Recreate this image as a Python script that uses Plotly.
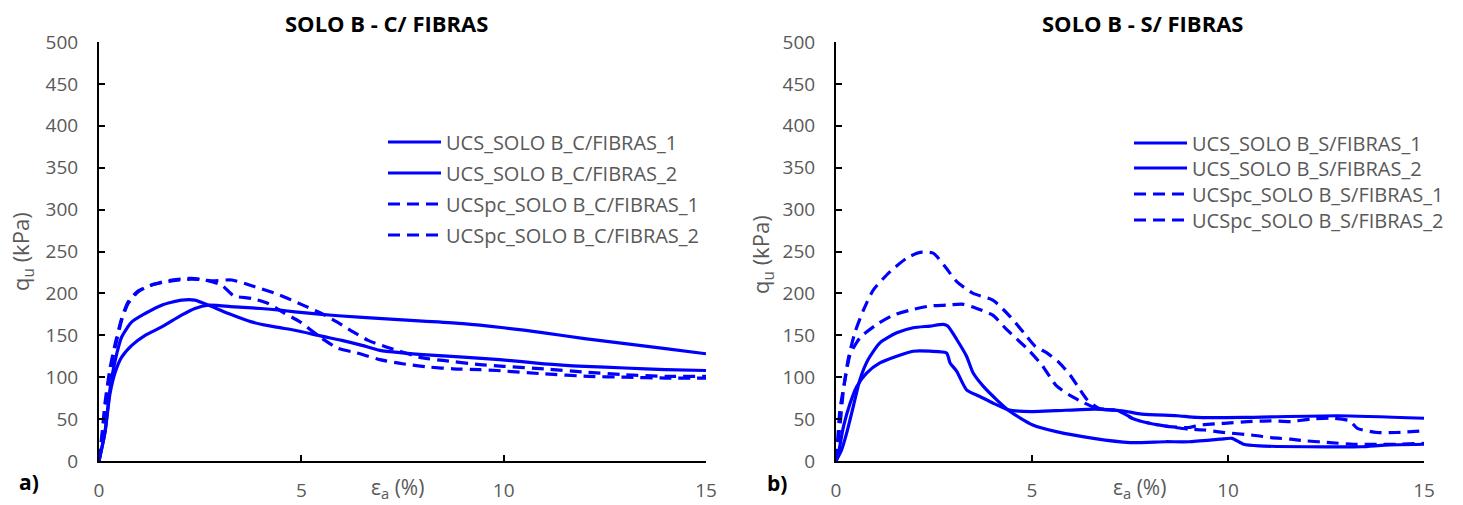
import plotly.graph_objects as go

# ---------------- SOLO B - C/ FIBRAS ----------------
c_ucs1_x = [0, 0.15, 0.27, 0.4, 0.56, 0.81, 1.14, 1.55, 2.04, 2.37, 2.7, 3.36, 4.0, 4.47, 4.84,
            5.5, 6.0, 7.0, 8.0, 9.0, 10.0, 11, 12, 13, 14, 15]
c_ucs1_q = [0, 35, 80, 106, 124, 138, 150, 160, 174, 182, 186, 184, 182, 180, 178,
            175, 173, 170, 167, 164, 159, 153, 146, 140, 134, 128]

c_ucs2_x = [0, 0.15, 0.27, 0.4, 0.56, 0.81, 1.14, 1.55, 2.04, 2.37, 2.7, 3.2, 3.77, 4.35, 4.84,
            5.5, 6.0, 6.5, 6.94, 7.5, 8.0, 9.0, 9.9, 11, 12, 13, 14, 15]
c_ucs2_q = [0, 35, 85, 120, 148, 166, 176, 186, 192, 192, 186, 176, 166, 160, 156,
            149, 144, 138, 132, 129, 127, 124, 121, 116, 113, 111, 109, 108]

c_pc1_x = [0, 0.08, 0.15, 0.27, 0.4, 0.56, 0.72, 0.97, 1.3, 1.8, 2.29, 2.78, 3.28, 3.85, 4.47,
           5.04, 5.5, 5.88, 6.28, 6.65, 7.1, 8.0, 8.5, 9.41, 10, 11, 12, 13, 14, 15]
c_pc1_q = [0, 30, 61, 105, 136, 168, 188, 202, 210, 216, 218, 215, 216, 208, 198,
           186, 176, 166, 154, 144, 136, 123, 120, 115, 113, 110, 106, 103, 101, 101]

c_pc2_x = [0, 0.08, 0.15, 0.27, 0.4, 0.56, 0.72, 0.97, 1.3, 1.8, 2.29, 2.6, 3.03, 3.33, 3.77,
           4.18, 4.56, 4.97, 5.46, 5.88, 6.37, 6.94, 7.5, 8.18, 8.75, 9.41, 9.83, 11, 12.1,
           13, 14, 15]
c_pc2_q = [0, 35, 70, 110, 140, 170, 190, 203, 210, 215, 217, 216, 210, 197, 194,
           188, 177, 166, 148, 135, 129, 121, 116, 112, 110, 109, 108, 104, 101,
           100, 99, 99]

# ---------------- SOLO B - S/ FIBRAS ----------------
s_ucs1_x = [0, 0.14, 0.27, 0.44, 0.61, 0.82, 1.12, 1.55, 1.97, 2.4, 2.74, 2.85, 3.08, 3.33, 3.5,
            3.76, 4.1, 4.44, 5.02, 5.62, 6.57, 7.5, 8.4, 9.0, 9.8, 10.1, 10.4, 10.8, 12.0,
            13.4, 14.0, 15.0]
s_ucs1_q = [0, 13, 33, 65, 97, 121, 141, 153, 159, 161, 163, 161, 145, 125, 105,
            89, 73, 59, 43, 35, 27, 22, 23, 23, 26, 27, 20, 18, 17,
            17, 19, 20]

s_ucs2_x = [0, 0.06, 0.19, 0.36, 0.53, 0.78, 1.12, 1.55, 1.97, 2.4, 2.82, 2.91, 3.08, 3.33, 3.67,
            4.01, 4.4, 5.0, 5.6, 6.6, 7.3, 7.8, 8.7, 9.2, 10.4, 12.8, 15]
s_ucs2_q = [0, 9, 41, 69, 89, 105, 117, 125, 131, 131, 129, 117, 107, 85, 77,
            69, 61, 59, 60, 62, 60, 56, 54, 52, 52, 54, 51]

s_pc1_x = [0, 0.02, 0.1, 0.19, 0.31, 0.48, 0.7, 0.95, 1.38, 1.8, 2.14, 2.48, 2.78, 3.08, 3.5,
           4.0, 4.43, 4.79, 5.08, 5.38, 5.68, 5.98, 6.21, 6.39, 6.7, 7.2, 7.6, 8.0, 8.5,
           9.0, 9.3, 9.9, 10.5, 11.1, 11.6, 12.1, 12.7, 13.1, 13.3, 13.8, 14.3, 15]
s_pc1_q = [0, 9, 41, 85, 121, 153, 180, 204, 226, 242, 249, 248, 232, 214, 200,
           192, 173, 153, 137, 129, 118, 102, 86, 74, 63, 60, 50, 45, 41,
           40, 43, 45, 47, 48, 47, 50, 51, 48, 39, 34, 34, 36]

s_pc2_x = [0, 0.05, 0.1, 0.23, 0.36, 0.61, 1.04, 1.46, 1.89, 2.4, 2.82, 3.25, 3.59, 4.0, 4.35,
           4.9, 5.26, 5.62, 5.98, 6.3, 6.7, 7.2, 7.6, 8.0, 8.5, 9.0, 9.4, 9.9, 10.6, 11.1,
           11.6, 12.0, 12.6, 13.2, 13.8, 14.3, 15]
s_pc2_q = [0, 30, 61, 97, 127, 147, 163, 174, 180, 185, 186, 187, 182, 174, 157,
           133, 114, 90, 78, 70, 62, 60, 50, 45, 41, 38, 37, 34, 31, 28,
           26, 24, 22, 20, 20, 20, 21]

x_ticks = [0, 5, 10, 15]
y_ticks = [0, 50, 100, 150, 200, 250, 300, 350, 400, 450, 500]

BLUE = "#0000FF"
GREY = "#595959"
FONT = "Open Sans"
W, H = 1463, 505
DASH = "12px,7px"

left_series = [
    ("UCS_SOLO B_C/FIBRAS_1", c_ucs1_x, c_ucs1_q, "solid"),
    ("UCS_SOLO B_C/FIBRAS_2", c_ucs2_x, c_ucs2_q, "solid"),
    ("UCSpc_SOLO B_C/FIBRAS_1", c_pc1_x, c_pc1_q, DASH),
    ("UCSpc_SOLO B_C/FIBRAS_2", c_pc2_x, c_pc2_q, DASH),
]
right_series = [
    ("UCS_SOLO B_S/FIBRAS_1", s_ucs1_x, s_ucs1_q, "solid"),
    ("UCS_SOLO B_S/FIBRAS_2", s_ucs2_x, s_ucs2_q, "solid"),
    ("UCSpc_SOLO B_S/FIBRAS_1", s_pc1_x, s_pc1_q, DASH),
    ("UCSpc_SOLO B_S/FIBRAS_2", s_pc2_x, s_pc2_q, DASH),
]

# legend rows (pixel centre of each entry) for each panel
left_rows = [142, 173, 204, 235]
right_rows = [143, 168, 194, 220]


def px_x(p):
    return p / W


def px_y(p):
    return 1 - p / H


fig = go.Figure()
legends = {}
k = 0
for panel, series, rows, xa, ya, lx in [("L", left_series, left_rows, "x", "y", 383),
                                         ("R", right_series, right_rows, "x2", "y2", 1129)]:
    for (name, xs, ys, dash), row in zip(series, rows):
        k += 1
        lname = "legend" if k == 1 else f"legend{k}"
        fig.add_trace(go.Scatter(
            x=xs, y=ys, mode="lines", name=name,
            line=dict(color=BLUE, width=3.2, dash=dash, shape="spline", smoothing=0.6),
            xaxis=xa, yaxis=ya, legend=lname))
        legends[lname] = dict(x=px_x(lx), y=px_y(row), xanchor="left", yanchor="middle",
                              bgcolor="rgba(0,0,0,0)", itemwidth=53,
                              font=dict(family=FONT, size=20, color=GREY))

axis_common = dict(showgrid=False, zeroline=False, showline=True, linecolor="black", linewidth=2,
                   ticks="inside", ticklen=6, tickwidth=1.5, tickcolor="black", automargin=False,
                   tickfont=dict(family=FONT, size=19, color=GREY))

fig.update_layout(
    width=W, height=H,
    margin=dict(l=0, r=0, t=0, b=0, autoexpand=False),
    paper_bgcolor="white", plot_bgcolor="white",
    showlegend=True,
    xaxis=dict(domain=[px_x(99), px_x(706)], range=[0, 15], tickvals=x_ticks,
               anchor="y", ticklabelstandoff=11, **axis_common),
    yaxis=dict(domain=[px_y(461), px_y(42)], range=[0, 500], tickvals=y_ticks,
               anchor="x", ticklabelstandoff=15, **axis_common),
    xaxis2=dict(domain=[px_x(836), px_x(1424)], range=[0, 15], tickvals=x_ticks,
                anchor="y2", ticklabelstandoff=11, **axis_common),
    yaxis2=dict(domain=[px_y(461), px_y(42)], range=[0, 500], tickvals=y_ticks,
                anchor="x2", ticklabelstandoff=15, **axis_common),
    **legends,
)

annotations = [
    dict(text="<b>SOLO B - C/ FIBRAS</b>", x=px_x(386), y=px_y(23),
         font=dict(family=FONT, size=22, color="black")),
    dict(text="<b>SOLO B - S/ FIBRAS</b>", x=px_x(1142), y=px_y(23),
         font=dict(family=FONT, size=22, color="black")),
    dict(text="q<sub>u</sub> (kPa)", x=px_x(22), y=px_y(252), textangle=-90,
         font=dict(family=FONT, size=22, color=GREY)),
    dict(text="q<sub>u</sub> (kPa)", x=px_x(762), y=px_y(255), textangle=-90,
         font=dict(family=FONT, size=22, color=GREY)),
    dict(text="ε<sub>a</sub> (%)", x=px_x(397), y=px_y(488),
         font=dict(family=FONT, size=21, color=GREY)),
    dict(text="ε<sub>a</sub> (%)", x=px_x(1139), y=px_y(488),
         font=dict(family=FONT, size=21, color=GREY)),
    dict(text="<b>a)</b>", x=px_x(29), y=px_y(482),
         font=dict(family=FONT, size=21, color="black")),
    dict(text="<b>b)</b>", x=px_x(777), y=px_y(483),
         font=dict(family=FONT, size=21, color="black")),
]
for a in annotations:
    a.update(xref="paper", yref="paper", xanchor="center", yanchor="middle", showarrow=False)
fig.update_layout(annotations=annotations)

fig.write_html("out.html")
